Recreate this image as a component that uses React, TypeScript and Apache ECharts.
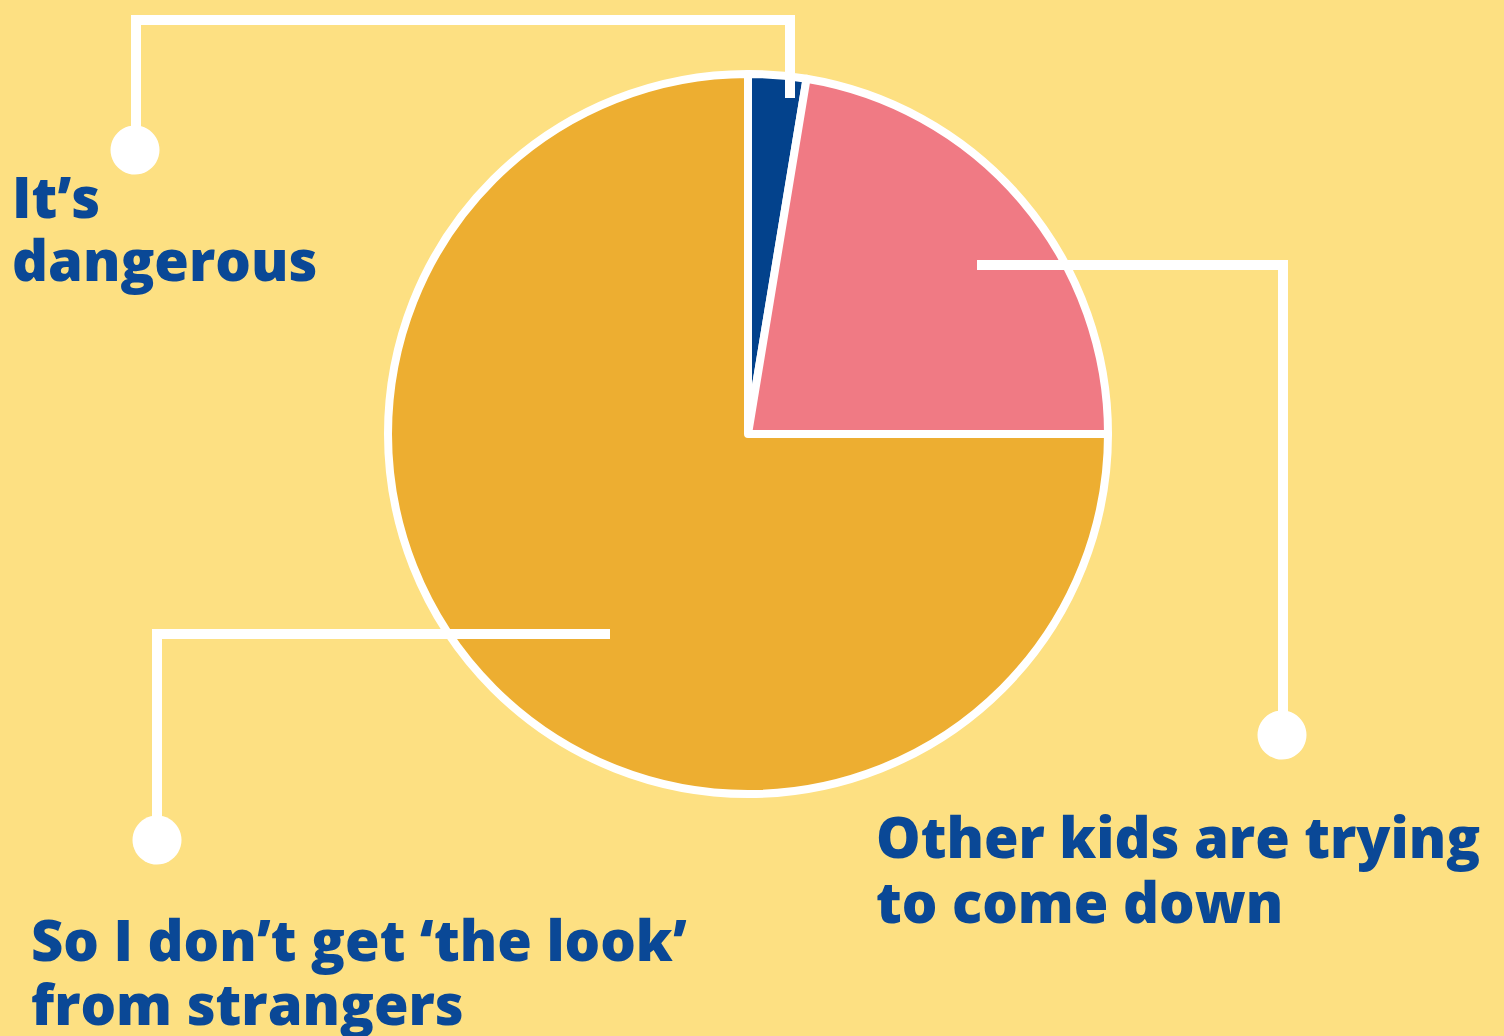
import React, { useEffect, useRef } from "react";
import * as echarts from "echarts";

const categories = [
  "It’s\ndangerous",
  "Other kids are trying\nto come down",
  "So I don’t get ‘the look’\nfrom strangers",
];
const values = [2.6, 22.4, 75];
const sliceColors = ["#03428C", "#F07A84", "#EDAE31"];

const W = 1504;
const H = 1036;
const CX = 748;
const CY = 434;
const R = 360;

// label anchor (top-left of text block) per slice
const labelAnchors = [
  { x: 12, y: 164, size: 56, lh: 63 },
  { x: 876, y: 803, size: 56, lh: 65 },
  { x: 31, y: 907, size: 56, lh: 64 },
];

// leader lines (annotation decoration)
const leaders = [
  { pts: [[790, 98], [790, 20], [136, 20], [136, 150]], dot: [135, 150] },
  { pts: [[977, 265], [1283, 265], [1283, 735]], dot: [1282, 735] },
  { pts: [[610, 634], [157, 634], [157, 840]], dot: [157, 840] },
];

export default function App() {
  const ref = useRef<HTMLDivElement>(null);
  useEffect(() => {
    if (!ref.current) return;
    const chart = echarts.init(ref.current, undefined, { renderer: "svg" });
    const graphic: any[] = [];
    leaders.forEach((l) => {
      graphic.push({
        type: "polyline",
        shape: { points: l.pts },
        style: { stroke: "#FFFFFF", lineWidth: 10, fill: "none", lineJoin: "miter" },
        z: 10,
      });
      graphic.push({
        type: "circle",
        shape: { cx: l.dot[0], cy: l.dot[1], r: 24.5 },
        style: { fill: "#FFFFFF" },
        z: 10,
      });
    });
    chart.setOption({
      animation: false,
      backgroundColor: "#FDE082",
      graphic,
      series: [
        {
          type: "pie",
          center: [CX, CY],
          radius: [0, R],
          startAngle: 90,
          clockwise: true,
          avoidLabelOverlap: false,
          itemStyle: { borderColor: "#FFFFFF", borderWidth: 8 },
          labelLine: { show: false },
          label: {
            show: true,
            formatter: "{b}",
            color: "#0A4896",
            fontFamily: "Open Sans",
            fontWeight: 800,
            align: "left",
            verticalAlign: "top",
          },
          labelLayout: (p: any) => {
            const a = labelAnchors[p.dataIndex];
            return { x: a.x, y: a.y, align: "left", verticalAlign: "top", fontSize: a.size, lineHeight: a.lh };
          },
          data: categories.map((c, i) => ({
            name: c,
            value: values[i],
            itemStyle: { color: sliceColors[i] },
            label: { fontSize: labelAnchors[i].size, lineHeight: labelAnchors[i].lh },
          })),
        },
      ],
    });
    return () => chart.dispose();
  }, []);
  return (
    <div
      ref={ref}
      style={{ position: "fixed", left: 0, top: 0, width: W, height: H }}
    />
  );
}
